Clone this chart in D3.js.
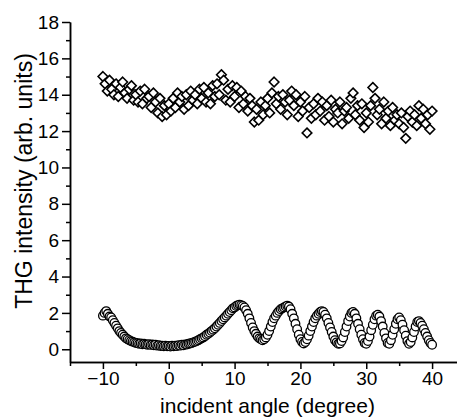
<!DOCTYPE html>
<html>
<head>
<meta charset="utf-8">
<script src="https://cdn.jsdelivr.net/npm/d3@7"></script>
<style>
  body { margin: 0; background: #fff; }
  text { font-family: "Liberation Sans", Arial, sans-serif; fill: #000; }
  .axis path, .axis line { stroke: #000; stroke-width: 1.5px; }
</style>
</head>
<body>
<div id="chart"></div>
<script>
// incident angle grid
const angleStart = -10
const angleEnd = 40
const circleStep = 0.25
const diamondStep = 1 / 3

// lower series (circles), one value per 0.25 deg
const circleValues = [
  1.85, 2.0, 2.1, 1.95,   1.8, 1.75, 1.6, 1.45,   1.3, 1.15, 1.0, 0.9,
  0.8, 0.7, 0.6, 0.55,    0.5, 0.45, 0.42, 0.38,  0.35, 0.33, 0.3, 0.32,
  0.28, 0.3, 0.27, 0.25,  0.28, 0.24, 0.26, 0.22, 0.25, 0.2, 0.22, 0.18,
  0.2, 0.17, 0.2, 0.16,   0.18, 0.15, 0.2, 0.17,  0.2, 0.18, 0.22, 0.2,
  0.25, 0.22, 0.27, 0.26, 0.3, 0.32, 0.35, 0.38,  0.42, 0.45, 0.5, 0.55,
  0.6, 0.65, 0.72, 0.8,   0.85, 0.92, 1.0, 1.08,  1.15, 1.25, 1.35, 1.45,
  1.55, 1.65, 1.75, 1.85, 1.95, 2.05, 2.15, 2.25, 2.3, 2.38, 2.42, 2.45,
  2.42, 2.38, 2.3, 2.15,  1.95, 1.7, 1.45, 1.2,   1.0, 0.85, 0.7, 0.6,
  0.55, 0.5, 0.55, 0.65,  0.8, 1.0, 1.25, 1.5,    1.7, 1.85, 2.0, 2.1,
  2.2, 2.25, 2.3, 2.35,   2.4, 2.35, 2.2, 1.95,   1.7, 1.4, 1.1, 0.8,
  0.55, 0.4, 0.32, 0.4,   0.55, 0.75, 1.0, 1.25,  1.5, 1.7, 1.85, 1.95,
  2.05, 2.1, 2.05, 1.9,   1.7, 1.45, 1.2, 0.95,   0.7, 0.5, 0.38, 0.3,
  0.32, 0.45, 0.65, 0.95, 1.25, 1.55, 1.8, 2.0,   2.05, 1.95, 1.7, 1.4,
  1.1, 0.8, 0.55, 0.35,   0.3, 0.45, 0.7, 1.05,   1.35, 1.65, 1.85, 1.9,
  1.8, 1.55, 1.25, 0.9,   0.6, 0.35, 0.3, 0.5,    0.8, 1.1, 1.4, 1.65,
  1.75, 1.6, 1.35, 1.05,  0.75, 0.45, 0.3, 0.4,   0.65, 0.95, 1.25, 1.5,
  1.55, 1.45, 1.3, 1.1,   0.9, 0.7, 0.5, 0.35,
  0.25
]

// upper series (diamonds), one value per 1/3 deg
const diamondValues = [
  15.0, 14.6, 14.2,  14.8, 14.3, 14.0,  14.6, 13.9, 14.4,  14.7, 14.1, 13.8,
  14.3, 14.5, 13.7,  14.0, 13.6, 14.2,  13.5, 14.3, 13.8,  13.9, 13.3, 14.1,
  13.6, 13.0, 13.8,  12.8, 13.4, 12.9,  13.5, 13.1, 13.8,  13.3, 14.1, 13.6,
  13.9, 13.2, 14.0,  13.4, 14.2, 13.7,  14.0, 13.5, 14.3,  13.8, 14.4, 13.6,
  14.1, 13.5, 14.5,  13.9, 14.6, 14.0,  15.1, 14.8, 13.7,  14.3, 13.6, 14.5,
  13.9, 14.4, 13.3,  14.2, 13.5, 13.9,  13.1, 13.8, 13.4,  12.5, 13.2, 12.6,
  13.6, 12.9, 13.4,  13.8, 13.0, 14.1,  14.7, 13.5, 13.9,  13.2, 14.0, 13.6,
  12.9, 13.7, 14.2,  13.4, 14.0, 12.8,  13.6, 13.1, 13.9,  11.9, 13.3, 12.7,
  13.5, 12.9, 13.8,  13.1, 13.6, 12.6,  13.4, 12.8, 13.7,  12.5, 13.2, 13.0,
  13.6, 12.4, 13.1,  13.3, 12.7, 13.8,  14.1, 12.9, 13.4,  12.6, 13.5, 12.2,
  13.0, 12.5, 13.4,  14.4, 13.8, 12.9,  13.2, 12.4, 13.6,  12.7, 13.1, 12.3,
  13.3, 12.6, 12.9,  12.4, 13.0, 12.2,  11.6, 12.8, 13.1,  12.5, 12.9, 12.3,
  13.4, 12.7, 13.2,  12.4, 12.9, 12.1,
  13.1
]

// axis ticks
const xTicks = [-10, 0, 10, 20, 30, 40]
const xMinorTicks = [-15, -5, 5, 15, 25, 35, 45]
const yTicks = [0, 2, 4, 6, 8, 10, 12, 14, 16, 18]
const yMinorTicks = [1, 3, 5, 7, 9, 11, 13, 15, 17]

const xTitle = "incident angle (degree)"
const yTitle = "THG intensity (arb. units)"

function drawChart() {
  const width = 457
  const height = 419

  // plot area
  const left = 70
  const right = 465
  const top = 22
  const bottom = 362

  const x = d3.scaleLinear().domain([-15, 45]).range([left, right])
  const y = d3.scaleLinear().domain([-0.7, 18]).range([bottom, top])

  const circles = circleValues.map((v, i) => ({ a: angleStart + i * circleStep, v: v }))
  const diamonds = diamondValues.map((v, i) => ({ a: angleStart + i * diamondStep, v: v }))

  const svg = d3.select("#chart")
    .append("svg")
    .attr("width", width)
    .attr("height", height)

  // x axis (major + minor)
  svg.append("g")
    .attr("class", "axis")
    .attr("transform", "translate(0," + bottom + ")")
    .call(d3.axisBottom(x).tickValues(xMinorTicks).tickSize(4).tickFormat("").tickSizeOuter(0))
  const gx = svg.append("g")
    .attr("class", "axis")
    .attr("transform", "translate(0," + bottom + ")")
    .call(d3.axisBottom(x).tickValues(xTicks).tickSize(7).tickPadding(3).tickSizeOuter(0))
  gx.selectAll("text").style("font-size", "19px")

  // y axis (major + minor)
  svg.append("g")
    .attr("class", "axis")
    .attr("transform", "translate(" + left + ",0)")
    .call(d3.axisLeft(y).tickValues(yMinorTicks).tickSize(4).tickFormat("").tickSizeOuter(0))
  const gy = svg.append("g")
    .attr("class", "axis")
    .attr("transform", "translate(" + left + ",0)")
    .call(d3.axisLeft(y).tickValues(yTicks).tickSize(8).tickPadding(3).tickSizeOuter(0))
  gy.selectAll("text").style("font-size", "19px")

  // axis titles
  svg.append("text")
    .attr("x", (x(-10) + x(40)) / 2)
    .attr("y", 413)
    .style("text-anchor", "middle")
    .style("font-size", "21px")
    .text(xTitle)

  svg.append("text")
    .attr("transform", "translate(32,181) rotate(-90)")
    .style("text-anchor", "middle")
    .style("font-size", "23px")
    .text(yTitle)

  // diamonds
  const ds = 4.8
  svg.append("g")
    .selectAll("path")
    .data(diamonds)
    .enter()
    .append("path")
    .attr("d", d => {
      const cx = x(d.a), cy = y(d.v)
      return "M" + cx + "," + (cy - ds) + "L" + (cx + ds) + "," + cy +
        "L" + cx + "," + (cy + ds) + "L" + (cx - ds) + "," + cy + "Z"
    })
    .style("fill", "#fff")
    .style("stroke", "#000")
    .style("stroke-width", 1.6)

  // circles
  svg.append("g")
    .selectAll("circle")
    .data(circles)
    .enter()
    .append("circle")
    .attr("cx", d => x(d.a))
    .attr("cy", d => y(d.v))
    .attr("r", 4.3)
    .style("fill", "#fff")
    .style("stroke", "#000")
    .style("stroke-width", 1.3)
}

drawChart()
</script>
</body>
</html>
